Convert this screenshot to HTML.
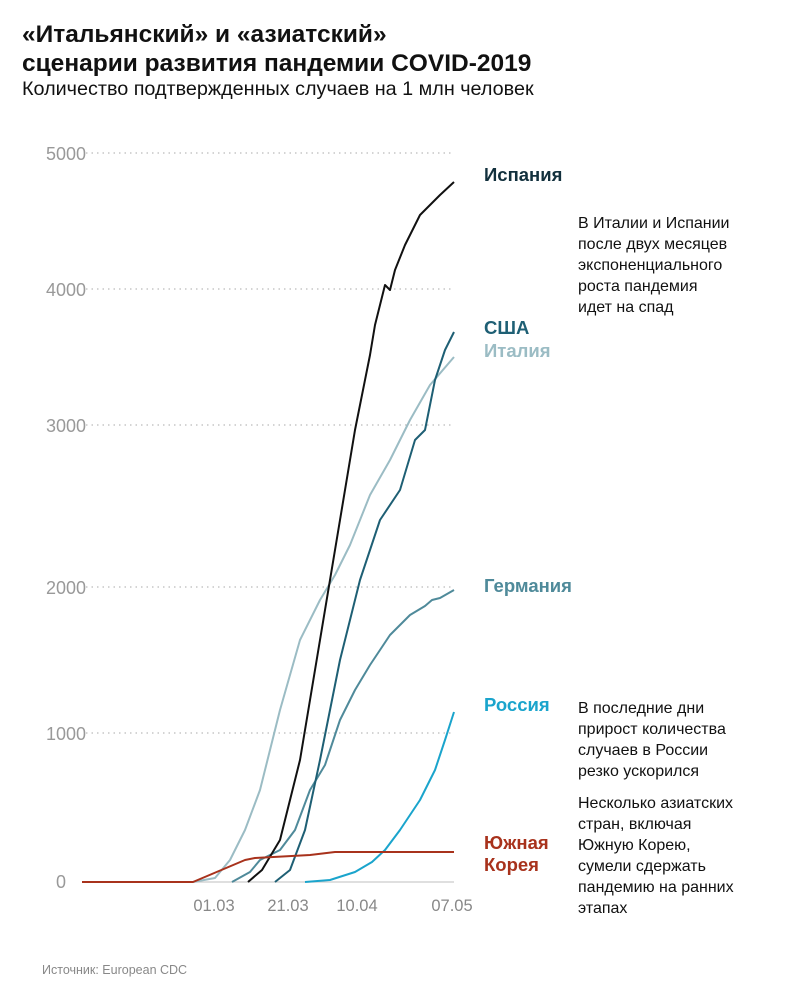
<!DOCTYPE html>
<html><head><meta charset="utf-8"><style>
body{margin:0;background:#fff;width:788px;height:1000px;overflow:hidden;font-family:"Liberation Sans",sans-serif}
svg{position:absolute;left:0;top:0}
</style></head><body>
<svg width="788" height="1000" viewBox="0 0 788 1000" font-family="Liberation Sans, sans-serif">
<text x="22" y="42" font-size="24.5" font-weight="bold" fill="#111">«Итальянский» и «азиатский»</text>
<text x="22" y="71" font-size="24.5" font-weight="bold" fill="#111">сценарии развития пандемии COVID-2019</text>
<text x="22" y="95" font-size="19.8" fill="#111">Количество подтвержденных случаев на 1 млн человек</text>
<g stroke="#bbb" stroke-dasharray="1.5,4" stroke-width="1.2">
<line x1="86" y1="153" x2="454" y2="153"/><line x1="86" y1="289" x2="454" y2="289"/>
<line x1="86" y1="425" x2="454" y2="425"/><line x1="86" y1="587" x2="454" y2="587"/>
<line x1="86" y1="733" x2="454" y2="733"/></g>
<line x1="82" y1="882" x2="454" y2="882" stroke="#ccc" stroke-width="1.2"/>
<g font-size="18" fill="#999" text-anchor="end">
<text x="86" y="160">5000</text><text x="86" y="296">4000</text><text x="86" y="432">3000</text>
<text x="86" y="594">2000</text><text x="86" y="740">1000</text><text x="66" y="888">0</text></g>
<g font-size="16.5" fill="#888" text-anchor="middle">
<text x="214" y="911">01.03</text><text x="288" y="911">21.03</text><text x="357" y="911">10.04</text><text x="452" y="911">07.05</text></g>
<g fill="none" stroke-width="2" stroke-linejoin="round">
<polyline stroke="#9bbcc4" points="193,882 215,878 230,860 245,830 260,790 280,710 300,640 320,600 335,575 350,545 370,495 390,460 410,420 430,385 454,357"/>
<polyline stroke="#4f8a9a" points="232,882 250,872 260,860 280,850 295,830 310,790 325,765 340,720 355,690 370,665 390,635 410,615 425,606 432,600 440,598 454,590"/>
<polyline stroke="#1e5f74" points="275,882 290,870 305,830 320,760 340,660 360,580 380,520 400,490 415,440 425,430 435,380 445,350 454,332"/>
<polyline stroke="#111" points="248,882 262,870 280,840 300,760 320,640 340,520 355,430 370,355 375,325 385,285 390,290 395,270 405,245 420,215 440,195 454,182"/>
<polyline stroke="#1aa4cc" points="305,882 330,880 355,872 372,862 385,850 400,830 420,800 435,770 445,740 454,712"/>
<polyline stroke="#a8321c" points="82,882 193,882 245,860 255,858 310,855 335,852 454,852"/>
</g>
<g font-size="18.5" font-weight="bold">
<text x="484" y="181" fill="#12303d">Испания</text>
<text x="484" y="334" fill="#1e5f74">США</text>
<text x="484" y="357" fill="#9bbcc4">Италия</text>
<text x="484" y="592" fill="#4f8a9a">Германия</text>
<text x="484" y="711" fill="#1aa4cc">Россия</text>
<text x="484" y="849" fill="#a8321c">Южная</text>
<text x="484" y="871" fill="#a8321c">Корея</text></g>
<g font-size="16" fill="#111">
<text x="578" y="228">В Италии и Испании</text><text x="578" y="249">после двух месяцев</text>
<text x="578" y="270">экспоненциального</text><text x="578" y="291">роста пандемия</text><text x="578" y="312">идет на спад</text>
<text x="578" y="713">В последние дни</text><text x="578" y="734">прирост количества</text>
<text x="578" y="755">случаев в России</text><text x="578" y="776">резко ускорился</text>
<text x="578" y="808">Несколько азиатских</text><text x="578" y="829">стран, включая</text>
<text x="578" y="850">Южную Корею,</text><text x="578" y="871">сумели сдержать</text>
<text x="578" y="892">пандемию на ранних</text><text x="578" y="913">этапах</text></g>
<text x="42" y="974" font-size="12.5" fill="#888">Источник: European CDC</text>
</svg>
</body></html>
